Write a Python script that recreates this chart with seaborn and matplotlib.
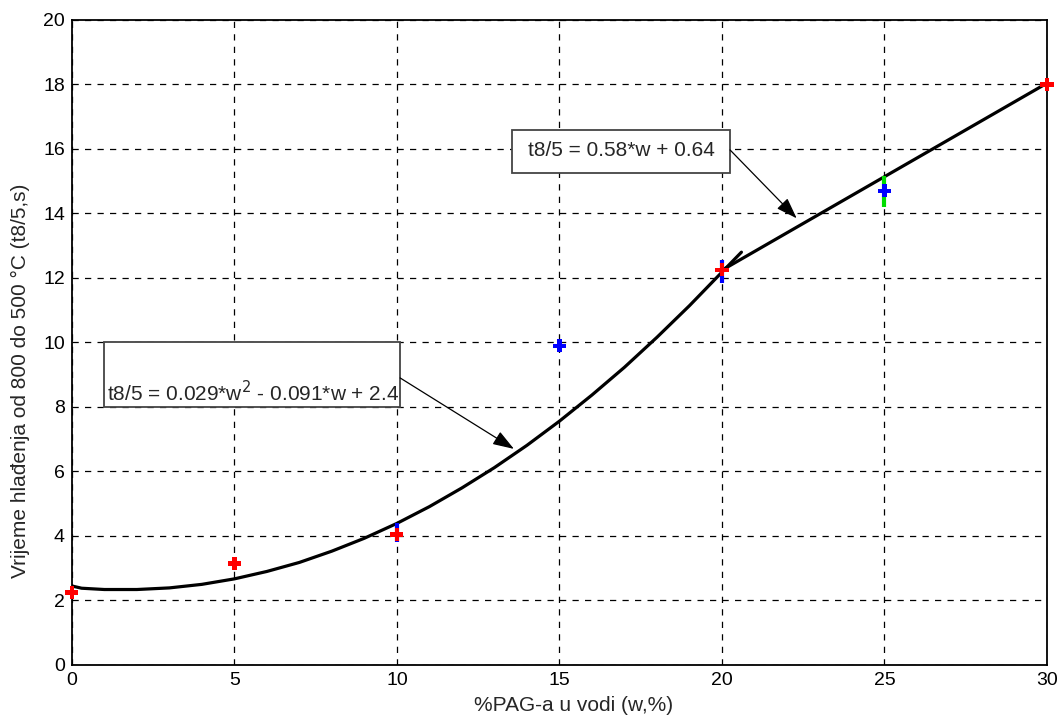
import matplotlib
matplotlib.use('Agg')
import matplotlib.pyplot as plt
from matplotlib.patches import Rectangle
import seaborn as sns
import pandas as pd

# measured points (w in %, t8/5 in s)
w_points = [0, 5, 10, 15, 20, 25, 30]
t_points = [2.25, 3.15, 4.05, 9.9, 12.25, 14.7, 18.0]
point_colors = ['red', 'red', 'red', 'blue', 'red', 'blue', 'red']

# error bars visible on the picture
err_w = [10, 20, 25]
err_low = [3.8, 11.85, 14.2]
err_high = [4.4, 12.55, 15.15]
err_colors = ['blue', 'blue', '#00dd00']

# fitted curves
quad_w = [0, 0.3, 1, 2, 3, 4, 5, 6, 7, 8, 9, 10, 11, 12, 13, 14, 15, 16,
          17, 18, 19, 20, 20.6]
quad_t = [2.45, 2.38, 2.34, 2.34, 2.39, 2.5, 2.67, 2.9, 3.18, 3.53, 3.93,
          4.39, 4.91, 5.49, 6.12, 6.81, 7.56, 8.37, 9.23, 10.16, 11.14,
          12.18, 12.8]
lin_w = [20, 25, 30]
lin_t = [12.24, 15.14, 18.04]

x_ticks = [0, 5, 10, 15, 20, 25, 30]
y_ticks = [0, 2, 4, 6, 8, 10, 12, 14, 16, 18, 20]

sns.set_style('white')
plt.rcParams['font.family'] = ['Liberation Sans', 'DejaVu Sans']

fig = plt.figure(figsize=(10.57, 7.21), dpi=100)
ax = fig.add_axes([0.068, 0.0777, 0.9225, 0.8946])

quad = pd.DataFrame({'w': quad_w, 't': quad_t})
lin = pd.DataFrame({'w': lin_w, 't': lin_t})
sns.lineplot(data=quad, x='w', y='t', color='black', linewidth=2.3,
             sort=False, ax=ax, zorder=3)
sns.lineplot(data=lin, x='w', y='t', color='black', linewidth=2.3,
             sort=False, ax=ax, zorder=3)

for w, lo, hi, c in zip(err_w, err_low, err_high, err_colors):
    ax.vlines(w, lo, hi, color=c, linewidth=3, zorder=4)

pts = pd.DataFrame({'w': w_points, 't': t_points, 'c': point_colors})
sns.scatterplot(data=pts, x='w', y='t', hue='c',
                palette={'red': 'red', 'blue': 'blue'}, marker='P', s=90,
                edgecolor='none', legend=False, ax=ax, zorder=5,
                clip_on=False)

ax.set_xlim(0, 30)
ax.set_ylim(0, 20)
ax.set_xticks(x_ticks)
ax.set_yticks(y_ticks)
ax.grid(True, color='black', linestyle=(0, (5, 5)), linewidth=0.9)
ax.tick_params(direction='in', length=5, labelsize=14, colors='black',
               pad=5)
for s in ax.spines.values():
    s.set_color('black')
    s.set_linewidth(1.3)

ax.set_xlabel('%PAG-a u vodi (w,%)', fontsize=15)
ax.set_ylabel('Vrijeme hlađenja od 800 do 500 °C (t8/5,s)', fontsize=15)
ax.xaxis.set_label_coords(0.515, -0.048)
ax.yaxis.set_label_coords(-0.043, 0.44)

arrow = dict(arrowstyle='-|>,head_length=1.3,head_width=0.45',
             color='black', linewidth=0.9, shrinkA=0, shrinkB=0)

# first annotation box
ax.add_patch(Rectangle((1.0, 8.0), 9.1, 2.0, facecolor='white',
                       edgecolor='#444444', linewidth=1.3, zorder=6))
ax.text(1.08, 8.45, 't8/5 = 0.029*w$^2$ - 0.091*w + 2.4', fontsize=15,
        va='center', ha='left', zorder=7)
ax.annotate('', xy=(13.6, 6.7), xytext=(10.1, 8.9), arrowprops=arrow,
            zorder=7)

# second annotation box
ax.add_patch(Rectangle((13.54, 15.26), 6.71, 1.33, facecolor='white',
                       edgecolor='#444444', linewidth=1.3, zorder=6))
ax.text(16.9, 15.95, 't8/5 = 0.58*w + 0.64', fontsize=15,
        va='center', ha='center', zorder=7)
ax.annotate('', xy=(22.3, 13.85), xytext=(20.25, 15.97), arrowprops=arrow,
            zorder=7)

fig.savefig('out.png', dpi=100)
